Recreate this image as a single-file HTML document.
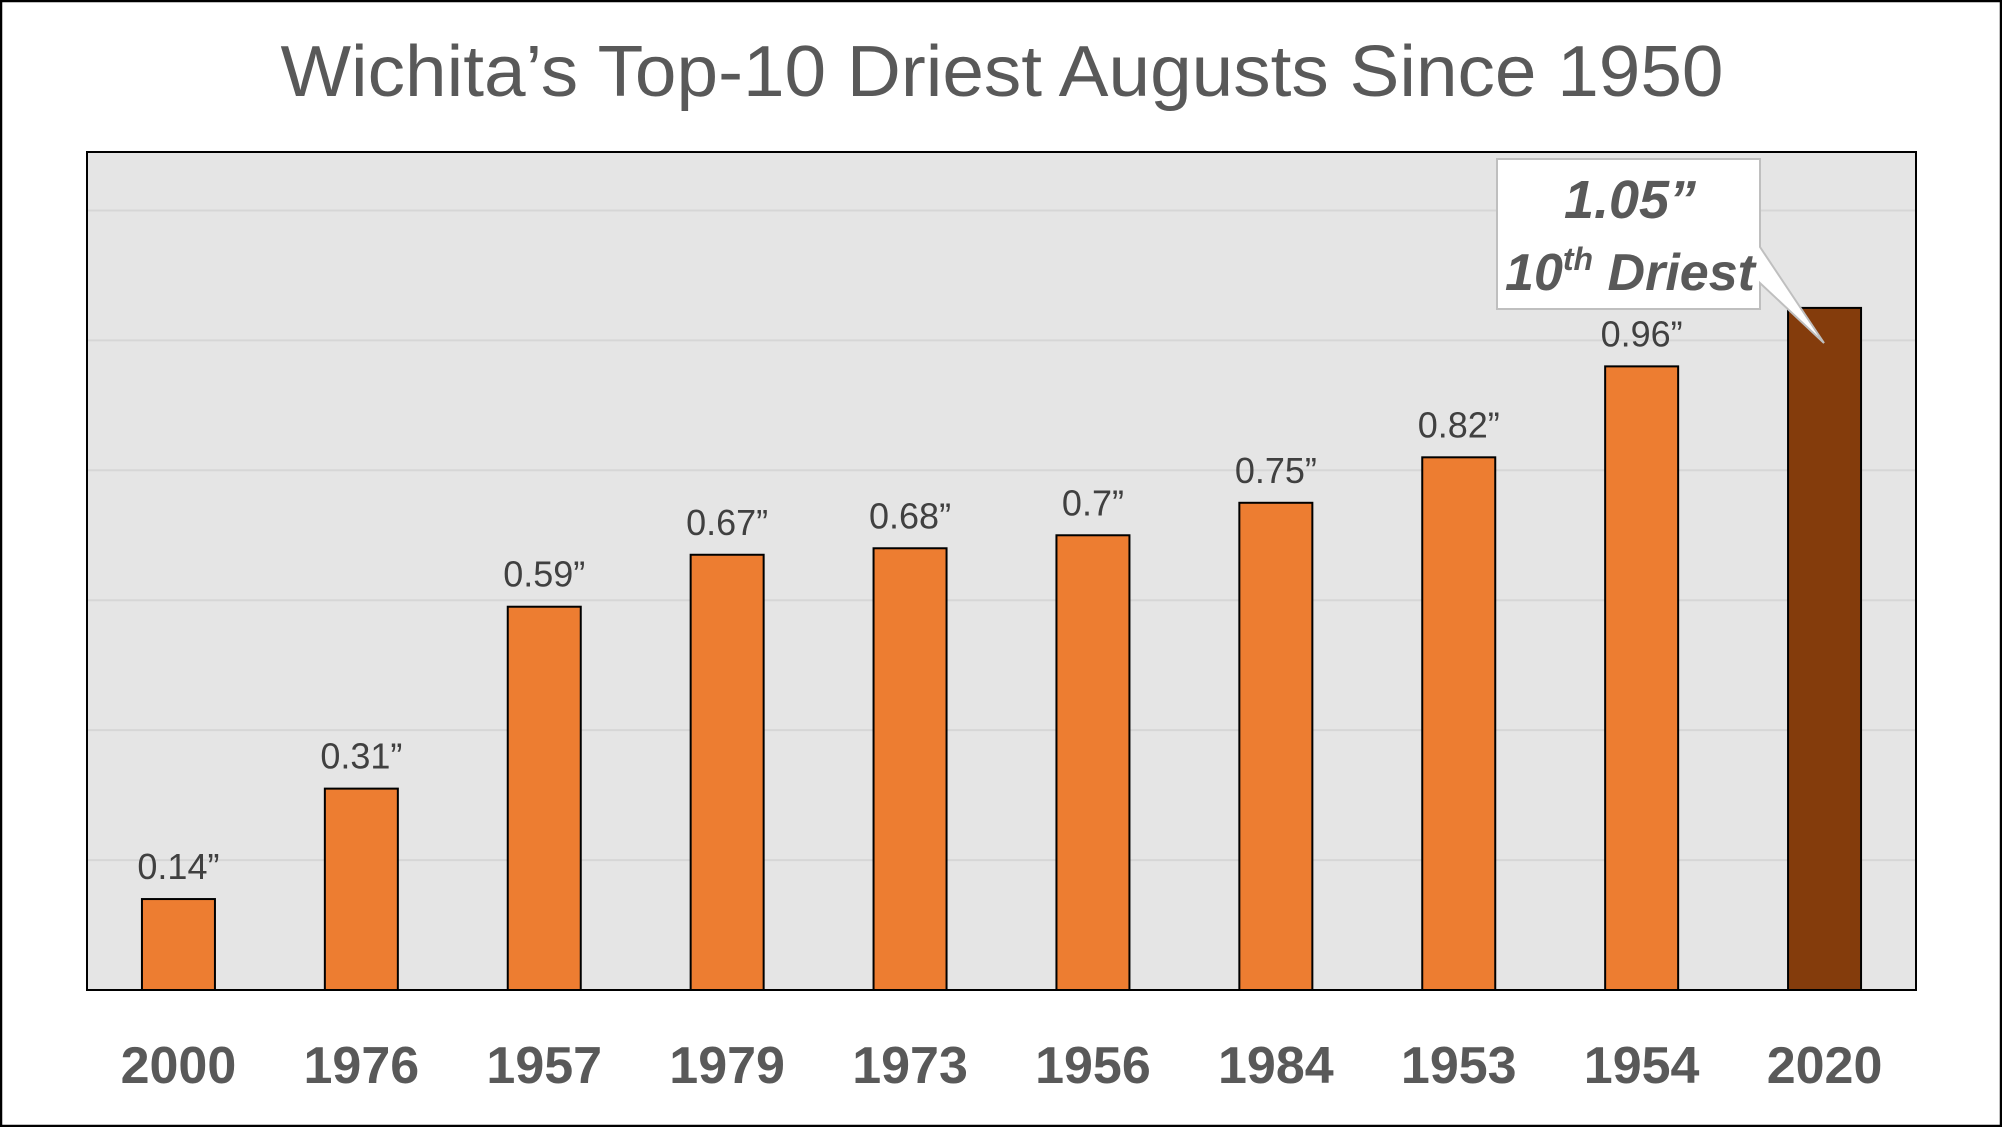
<!DOCTYPE html>
<html><head><meta charset="utf-8"><style>
html,body{margin:0;padding:0;background:#fff}
svg{display:block}
text{font-family:"Liberation Sans",sans-serif}
</style></head><body>
<svg id="chart" width="2002" height="1127" viewBox="0 0 2002 1127" xmlns="http://www.w3.org/2000/svg">
<rect x="1" y="1" width="2000" height="1125" fill="#fff" stroke="#000" stroke-width="2.5"/>
<text x="1002" y="96" text-anchor="middle" font-size="72" fill="#595959" textLength="1443" lengthAdjust="spacingAndGlyphs">Wichita’s Top-10 Driest Augusts Since 1950</text>
<rect x="87" y="152" width="1829" height="838" fill="#E5E5E5"/>
<g id="grid"></g>
<g id="bars"></g>
<rect x="87" y="152" width="1829" height="838" fill="none" stroke="#000" stroke-width="2"/>
<g>
<path d="M1497,159 H1760 V247 L1824,343 L1760,283 V309 H1497 Z" fill="#fff" stroke="#bfbfbf" stroke-width="2"/>
<text x="1630" y="218" text-anchor="middle" font-size="54" font-weight="bold" font-style="italic" fill="#595959">1.05”</text>
<text x="1630" y="290" text-anchor="middle" font-size="52" font-weight="bold" font-style="italic" fill="#595959">10<tspan font-size="32" dy="-20">th</tspan><tspan dy="20"> Driest</tspan></text>
</g>
</svg>
<script>
const categories = ["2000","1976","1957","1979","1973","1956","1984","1953","1954","2020"];
const values = [0.14,0.31,0.59,0.67,0.68,0.7,0.75,0.82,0.96,1.05];
const valueLabels = ["0.14”","0.31”","0.59”","0.67”","0.68”","0.7”","0.75”","0.82”","0.96”",""];
const gridTicks = [0.2,0.4,0.6,0.8,1.0,1.2];
const NS = "http://www.w3.org/2000/svg";
const X0 = 87, W = 1829, Y0 = 990, H = 838, YMAX = 1.29;
function y(v){ return Y0 - v / YMAX * H; }
function xc(i){ return X0 + W / categories.length * (i + 0.5); }
const bw = 73;
const grid = document.getElementById('grid');
gridTicks.forEach(t => {
  const l = document.createElementNS(NS, 'line');
  
  
  l.setAttribute('x1', X0); l.setAttribute('x2', X0 + W);
  l.setAttribute('y1', y(t)); l.setAttribute('y2', y(t));
  l.setAttribute('stroke', '#d6d6d6'); l.setAttribute('stroke-width', '2');
  grid.appendChild(l);
});
const bars = document.getElementById('bars');
const svg = document.getElementById('chart');
categories.forEach((c, i) => {
  const r = document.createElementNS(NS, 'rect');
  
  
  r.setAttribute('x', xc(i) - bw / 2); r.setAttribute('width', bw);
  r.setAttribute('y', y(values[i])); r.setAttribute('height', Y0 - y(values[i]));
  r.setAttribute('fill', i === categories.length - 1 ? '#843C0C' : '#ED7D31');
  r.setAttribute('stroke', '#000'); r.setAttribute('stroke-width', '2');
  bars.appendChild(r);
  if (valueLabels[i]) {
    const t = document.createElementNS(NS, 'text');
    
    
    t.setAttribute('x', xc(i)); t.setAttribute('y', y(values[i]) - 20);
    t.setAttribute('text-anchor', 'middle'); t.setAttribute('font-size', '36');
    t.setAttribute('fill', '#404040');
    t.textContent = valueLabels[i];
    svg.appendChild(t);
  }
  const xl = document.createElementNS(NS, 'text');
  
  
  xl.setAttribute('x', xc(i)); xl.setAttribute('y', 1083);
  xl.setAttribute('text-anchor', 'middle'); xl.setAttribute('font-size', '52');
  xl.setAttribute('font-weight', 'bold'); xl.setAttribute('fill', '#595959');
  xl.textContent = c;
  svg.appendChild(xl);
});
</script>
</body></html>
